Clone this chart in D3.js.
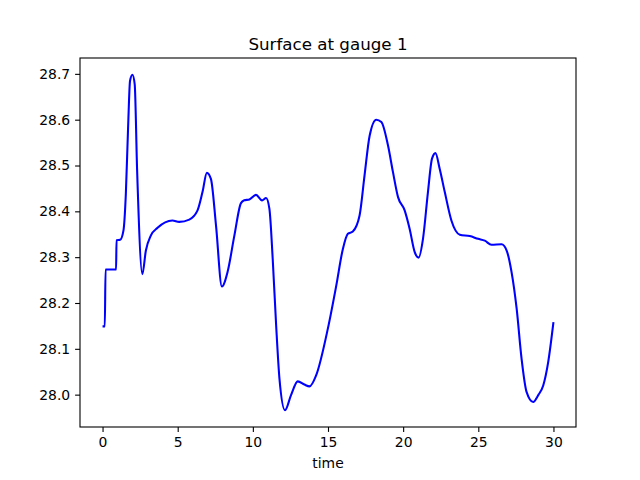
<!DOCTYPE html>
<html>
<head>
<meta charset="utf-8">
<script src="https://cdn.jsdelivr.net/npm/d3@7"></script>
<style>
  body { margin: 0; background: #fff; }
  text { font-family: "DejaVu Sans", sans-serif; fill: #000; }
</style>
</head>
<body>
<div id="vis"></div>
<script>
// gauge readings
const times = [0, 0.15, 0.2, 0.9, 0.93, 1.17, 1.39, 1.55, 1.7, 1.83, 1.99, 2.14, 2.3, 2.65, 2.88, 3.21, 3.66, 4.65, 5.1, 5.77, 6.32, 6.65, 6.94, 7.21, 7.55, 7.94, 8.32, 8.77, 9.21, 9.43, 9.77, 10.21, 10.61, 10.88, 11.1, 11.32, 11.55, 11.77, 12.14, 12.54, 12.99, 13.43, 13.77, 14.21, 14.99, 15.55, 15.99, 16.32, 16.65, 17.1, 17.43, 17.77, 18.21, 18.55, 18.99, 19.32, 19.66, 20.1, 20.43, 20.77, 21.03, 21.32, 21.65, 21.92, 22.15, 22.43, 22.77, 23.21, 23.77, 24.43, 24.99, 25.43, 25.88, 26.55, 26.88, 27.21, 27.55, 27.88, 28.21, 28.65, 28.99, 29.32, 29.65, 30];
const surface = [28.149, 28.149, 28.273, 28.273, 28.337, 28.338, 28.358, 28.438, 28.583, 28.685, 28.698, 28.677, 28.49, 28.263, 28.314, 28.347, 28.364, 28.38, 28.377, 28.382, 28.402, 28.442, 28.484, 28.471, 28.369, 28.236, 28.268, 28.347, 28.418, 28.424, 28.426, 28.436, 28.424, 28.429, 28.406, 28.297, 28.151, 28.035, 27.966, 27.999, 28.029, 28.022, 28.018, 28.042, 28.144, 28.238, 28.318, 28.351, 28.356, 28.391, 28.478, 28.565, 28.6, 28.595, 28.544, 28.486, 28.431, 28.402, 28.362, 28.311, 28.299, 28.34, 28.442, 28.515, 28.527, 28.493, 28.442, 28.38, 28.349, 28.346, 28.34, 28.336, 28.327, 28.328, 28.315, 28.268, 28.188, 28.078, 28.006, 27.984, 27.999, 28.02, 28.071, 28.158];
const xTicks = [0, 5, 10, 15, 20, 25, 30];
const yTicks = [28.0, 28.1, 28.2, 28.3, 28.4, 28.5, 28.6, 28.7];

let margin = { left: 80, right: 64, top: 58, bottom: 53 };
let width = 640 - margin.left - margin.right;
let height = 480 - margin.top - margin.bottom;

let svg = d3.select('#vis').append('svg')
    .attr('width', 640)
    .attr('height', 480);

let g = svg.append('g')
    .attr('transform', `translate(${margin.left}, ${margin.top})`);

// matplotlib-style 5% margins around the data
let xMin = d3.min(times), xMax = d3.max(times);
let yMin = d3.min(surface), yMax = d3.max(surface);
let xPad = (xMax - xMin) * 0.05, yPad = (yMax - yMin) * 0.05;

let xScale = d3.scaleLinear()
    .domain([xMin - xPad, xMax + xPad])
    .range([0, width]);

let yScale = d3.scaleLinear()
    .domain([yMin - yPad, yMax + yPad])
    .range([height, 0]);

let xAxis = d3.axisBottom(xScale).tickValues(xTicks).tickFormat(d3.format('d'))
    .tickSizeOuter(0).tickSize(4.9).tickPadding(4.9);
let yAxis = d3.axisLeft(yScale).tickValues(yTicks).tickFormat(d3.format('.1f'))
    .tickSizeOuter(0).tickSize(4.9).tickPadding(4.9);

let gx = g.append('g')
    .attr('transform', `translate(0, ${height})`)
    .call(xAxis);
let gy = g.append('g').call(yAxis);

[gx, gy].forEach(a => {
    a.select('.domain').remove();
    a.selectAll('line').attr('stroke', '#000').attr('stroke-width', 1.1);
    a.selectAll('text').style('font-size', '13.9px').style('font-family', '"DejaVu Sans", sans-serif');
});

let line = d3.line()
    .x((d, i) => xScale(times[i]))
    .y(d => yScale(d))
    .curve(d3.curveMonotoneX);

g.append('path')
    .datum(surface)
    .attr('fill', 'none')
    .attr('stroke', '#0000ff')
    .attr('stroke-width', 2.08)
    .attr('stroke-linejoin', 'round')
    .attr('d', line);

// frame
g.append('rect')
    .attr('width', width)
    .attr('height', height)
    .attr('fill', 'none')
    .attr('stroke', '#000')
    .attr('stroke-width', 1.1);

svg.append('text')
    .attr('x', margin.left + width / 2)
    .attr('y', margin.top - 8.3)
    .attr('text-anchor', 'middle')
    .style('font-size', '16.7px')
    .text('Surface at gauge 1');

svg.append('text')
    .attr('x', margin.left + width / 2)
    .attr('y', 468)
    .attr('text-anchor', 'middle')
    .style('font-size', '13.9px')
    .text('time');
</script>
</body>
</html>
